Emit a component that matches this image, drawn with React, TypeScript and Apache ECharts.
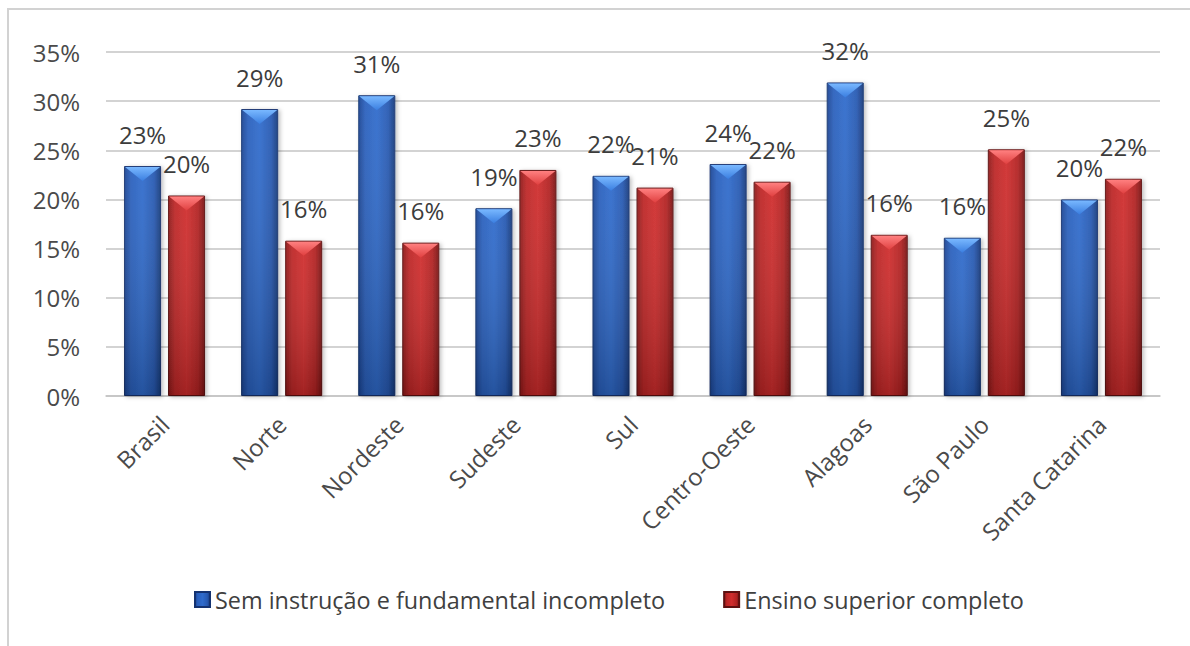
import React, { useEffect, useRef } from "react";
import * as echarts from "echarts";

const categories = [
  "Brasil",
  "Norte",
  "Nordeste",
  "Sudeste",
  "Sul",
  "Centro-Oeste",
  "Alagoas",
  "São Paulo",
  "Santa Catarina",
];
const seriesNames = [
  "Sem instrução e fundamental incompleto",
  "Ensino superior completo",
];
const semInstrucao = [23.4, 29.2, 30.6, 19.1, 22.4, 23.6, 31.9, 16.1, 20.0];
const ensinoSuperior = [20.4, 15.8, 15.6, 23.0, 21.2, 21.8, 16.4, 25.1, 22.1];
const yMin = 0;
const yMax = 35;
const yStep = 5;

const FONT = "'Open Sans', 'Noto Sans', sans-serif";
const BAR_W = 37;
const BAR_GAP = 7;

const blueFill = new echarts.graphic.LinearGradient(0, 0, 1, 0, [
  { offset: 0, color: "#1b4594" },
  { offset: 0.18, color: "#2a60bd" },
  { offset: 0.5, color: "#2f6bcc" },
  { offset: 0.82, color: "#2759b2" },
  { offset: 1, color: "#163a7c" },
]);
const redFill = new echarts.graphic.LinearGradient(0, 0, 1, 0, [
  { offset: 0, color: "#8e1a1a" },
  { offset: 0.18, color: "#bd2626" },
  { offset: 0.5, color: "#d02d2d" },
  { offset: 0.82, color: "#b22222" },
  { offset: 1, color: "#7a1414" },
]);

function bevelRenderer(offset: number, light: string, mid: string) {
  return (params: any, api: any) => {
    const idx = api.value(0);
    const val = api.value(1);
    const top = api.coord([idx, val]);
    const base = api.coord([idx, 0]);
    const cx = top[0] + offset;
    const x0 = cx - BAR_W / 2;
    const x1 = cx + BAR_W / 2;
    const h = base[1] - top[1];
    return {
      type: "group",
      children: [
        {
          type: "rect",
          shape: { x: x0, y: top[1], width: BAR_W, height: h },
          style: {
            fill: new echarts.graphic.LinearGradient(0, 0, 0, 1, [
              { offset: 0, color: "rgba(255,255,255,0.06)" },
              { offset: 1, color: "rgba(0,0,0,0.22)" },
            ]),
          },
        },
        {
          type: "polygon",
          shape: {
            points: [
              [x0 + 1, top[1] + 1],
              [x1 - 1, top[1] + 1],
              [cx, top[1] + 15],
            ],
          },
          style: {
            fill: new echarts.graphic.LinearGradient(0, 0, 0, 1, [
              { offset: 0, color: light },
              { offset: 1, color: mid },
            ]),
          },
        },
      ],
    };
  };
}

export default function App() {
  const ref = useRef<HTMLDivElement>(null);

  useEffect(() => {
    if (!ref.current) return;
    const chart = echarts.init(ref.current, null, { renderer: "svg" });
    const labelStyle = {
      show: true,
      position: "top",
      distance: 20,
      fontFamily: FONT,
      fontSize: 24,
      color: "#3c3c3c",
      formatter: (p: any) => Math.round(p.value) + "%",
    };
    chart.setOption({
      animation: false,
      backgroundColor: "#ffffff",
      textStyle: { fontFamily: FONT },
      graphic: [
        {
          type: "rect",
          shape: { x: 8, y: 9, width: 1300, height: 800 },
          style: { fill: "none", stroke: "#d2d2d2", lineWidth: 2 },
          silent: true,
          z: -10,
        },
      ],
      grid: { left: 106, right: 30, top: 52, bottom: 250, containLabel: false },
      legend: {
        data: seriesNames,
        left: 189,
        top: 583,
        icon: "rect",
        itemWidth: 15,
        itemHeight: 15,
        itemGap: 58,
        textStyle: { fontFamily: FONT, fontSize: 23.4, color: "#404040" },
      },
      xAxis: {
        type: "category",
        data: categories,
        axisTick: { show: false },
        axisLine: { lineStyle: { color: "#c4c4c4", width: 1.5 } },
        axisLabel: {
          rotate: 45,
          interval: 0,
          margin: 24,
          fontFamily: FONT,
          fontSize: 24,
          color: "#4a4a4a",
        },
      },
      yAxis: {
        type: "value",
        min: yMin,
        max: yMax,
        interval: yStep,
        axisLine: { show: false },
        axisTick: { show: false },
        axisLabel: {
          margin: 26,
          fontFamily: FONT,
          fontSize: 24,
          color: "#4a4a4a",
          formatter: "{value}%",
        },
        splitLine: { lineStyle: { color: "#c4c4c4", width: 1.5 } },
      },
      series: [
        {
          name: seriesNames[0],
          type: "bar",
          data: semInstrucao,
          barWidth: BAR_W,
          barGap: (BAR_GAP / BAR_W) * 100 + "%",
          itemStyle: {
            color: blueFill,
            borderColor: "#143270",
            borderWidth: 1,
            shadowColor: "rgba(0,0,0,0.25)",
            shadowBlur: 4,
            shadowOffsetX: 2,
            shadowOffsetY: 1,
          },
          label: labelStyle,
          z: 2,
        },
        {
          name: seriesNames[1],
          type: "bar",
          data: ensinoSuperior,
          barWidth: BAR_W,
          barGap: (BAR_GAP / BAR_W) * 100 + "%",
          itemStyle: {
            color: redFill,
            borderColor: "#5e1010",
            borderWidth: 1,
            shadowColor: "rgba(0,0,0,0.25)",
            shadowBlur: 4,
            shadowOffsetX: 2,
            shadowOffsetY: 1,
          },
          label: labelStyle,
          z: 2,
        },
        {
          name: "bevel-blue",
          type: "custom",
          silent: true,
          z: 3,
          renderItem: bevelRenderer(-(BAR_W + BAR_GAP) / 2, "#79b8ff", "#3a7ee0"),
          data: semInstrucao.map((v, i) => [i, v]),
        },
        {
          name: "bevel-red",
          type: "custom",
          silent: true,
          z: 3,
          renderItem: bevelRenderer((BAR_W + BAR_GAP) / 2, "#ff8080", "#e04040"),
          data: ensinoSuperior.map((v, i) => [i, v]),
        },
      ],
    });
    return () => chart.dispose();
  }, []);

  return (
    <div
      ref={ref}
      style={{ position: "absolute", left: 0, top: 0, width: 1190, height: 646 }}
    />
  );
}
